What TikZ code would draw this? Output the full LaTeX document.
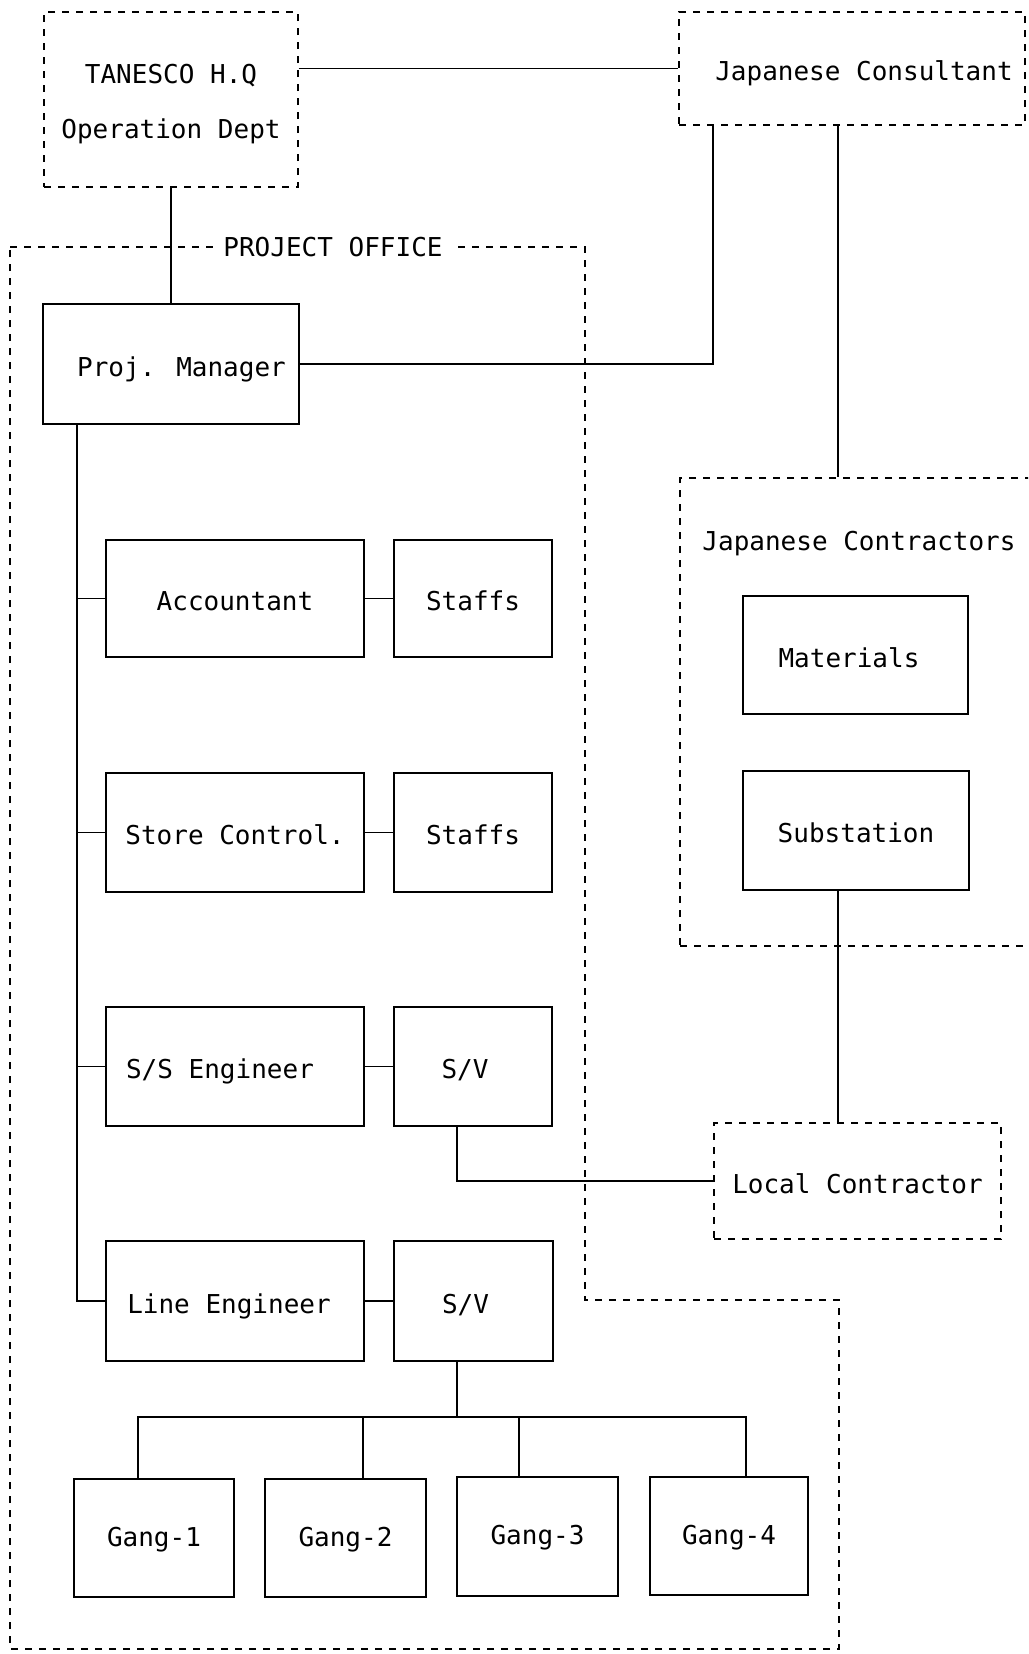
\documentclass[tikz,border=0pt]{standalone}
\usepackage{fontspec}
\newfontfamily\dm{DejaVu Sans Mono}
% box from (x1,y1) to (x2,y2) in pixel units
\newcommand\bx[7][]{\node[#1, minimum width={(#5-#3)*0.5pt}, minimum height={(#6-#4)*0.5pt}] (#2) at ({(#3+#5)/2},{(#4+#6)/2}) {#7};}
\begin{document}
\begin{tikzpicture}[x=0.5pt,y=-0.5pt,
  every node/.style={font=\dm\fontsize{13}{16}\selectfont, inner sep=0pt},
  sbox/.style={draw, line width=0.9pt, text height=12pt, text depth=0pt},
  gbox/.style={sbox, text height=8pt},
  dbox/.style={draw, line width=0.7pt, dash pattern=on 3.5pt off 3.5pt, text height=12pt, text depth=0pt},
  dline/.style={line width=0.7pt, dash pattern=on 3.5pt off 3.5pt},
  conn/.style={line width=0.8pt}]
\clip (0,0) rectangle (1028,1654);
\fill[white] (0,0) rectangle (1028,1654);

% project office outline
\draw[dline] (10,247) -- (585,247) -- (585,1300) -- (839,1300) -- (839,1649) -- (10,1649) -- cycle;

% top boxes
\bx[dbox, align=center, text height=39pt, text depth=0pt, font=\dm\fontsize{13}{27.5}\selectfont]{tan}{44}{12}{298}{187}{TANESCO H.Q\\Operation Dept}
\bx[dbox]{jc}{679}{12}{1025}{125}{\hspace*{12pt}Japanese Consultant}

% project office boxes
\bx[sbox]{pm}{43}{304}{299}{424}{\hspace*{10.5pt}Proj. Manager}
\bx[sbox]{acc}{106}{540}{364}{657}{Accountant}
\bx[sbox]{st1}{394}{540}{552}{657}{Staffs}
\bx[sbox]{sc}{106}{773}{364}{892}{Store Control.}
\bx[sbox]{st2}{394}{773}{552}{892}{Staffs}
\bx[sbox]{sse}{106}{1007}{364}{1126}{S/S Engineer\hspace*{15pt}}
\bx[sbox]{sv1}{394}{1007}{552}{1126}{S/V\hspace*{8pt}}
\bx[sbox]{le}{106}{1241}{364}{1361}{Line Engineer\hspace*{6pt}}
\bx[sbox]{sv2}{394}{1241}{553}{1361}{S/V\hspace*{8pt}}
\bx[gbox]{g1}{74}{1479}{234}{1597}{Gang-1}
\bx[gbox]{g2}{265}{1479}{426}{1597}{Gang-2}
\bx[gbox]{g3}{457}{1477}{618}{1596}{Gang-3}
\bx[gbox]{g4}{650}{1477}{808}{1595}{Gang-4}

\node[fill=white, inner xsep=4pt, inner ysep=3pt] (po) at (333,247) {PROJECT OFFICE};

% Japanese contractors
\bx[dbox]{jcon}{680}{478}{1070}{946}{}
\node (jcont) at (859,544) {Japanese Contractors};
\bx[sbox]{mat}{743}{596}{968}{714}{Materials\hspace*{6.5pt}}
\bx[sbox]{sub}{743}{771}{969}{890}{Substation}

% local contractor
\bx[dbox]{lc}{714}{1123}{1001}{1239}{Local Contractor}

% helper coordinates
\coordinate (xsp) at (77,0);
\coordinate (xa) at (713,0);
\coordinate (xb) at (838,0);
\coordinate (xs) at (457,0);
\coordinate (bus) at (457,1417);
\coordinate (d1) at (138,0);
\coordinate (d2) at (363,0);
\coordinate (d3) at (519,0);
\coordinate (d4) at (746,0);

% connectors
\draw[conn] (tan.east |- jc.west) -- (jc.west);
\draw[conn] (tan.south) -- (pm.north);
\draw[conn] (pm.east) -| (jc.south -| xa);
\draw[conn] (jc.south -| xb) -- (jcon.north -| xb);
\draw[conn] (sub.south -| xb) -- (lc.north -| xb);
\draw[conn] (pm.south -| xsp) |- (le.west);
\foreach \n in {acc,sc,sse} \draw[conn] (\n.west -| xsp) -- (\n.west);
\draw[conn] (acc.east) -- (st1.west);
\draw[conn] (sc.east) -- (st2.west);
\draw[conn] (sse.east) -- (sv1.west);
\draw[conn] (le.east) -- (sv2.west);
\draw[conn] (sv1.south -| xs) |- (lc.west);
\draw[conn] (sv2.south -| xs) -- (bus);
\draw[conn] (g1.north -| d1) |- (bus) -| (g4.north -| d4);
\draw[conn] (g2.north -| d2) -- (bus -| d2);
\draw[conn] (g3.north -| d3) -- (bus -| d3);
\end{tikzpicture}
\end{document}
